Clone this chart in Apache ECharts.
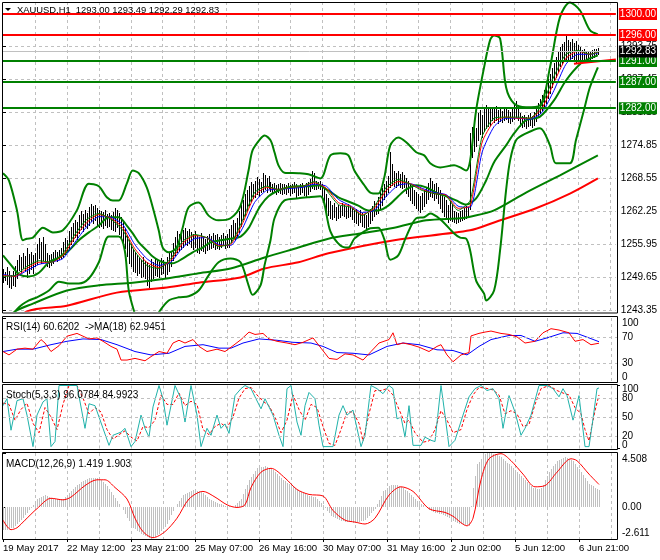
<!DOCTYPE html>
<html>
<head>
<meta charset="utf-8">
<title>XAUUSD H1</title>
<script src="https://cdn.jsdelivr.net/npm/echarts@6.0.0/dist/echarts.min.js"></script>
<style>
html,body{margin:0;padding:0;background:#ffffff;}
#chart{width:660px;height:560px;}
</style>
</head>
<body>
<div id="chart"></div>
<script>
// ================= DATA =================
const symbolName = "XAUUSD,H1";
const lastOHLC = [1293.00, 1293.49, 1292.29, 1292.83];
const timeLabels = ["19 May 2017","22 May 12:00","23 May 21:00","25 May 07:00","26 May 16:00","30 May 07:00","31 May 16:00","2 Jun 02:00","5 Jun 12:00","6 Jun 21:00"];
const timeLabelBars = [0,32,64,96,128,160,192,224,256,288];

const barHigh = [
1251.3,1250.8,1251.6,1250.9,1250.2,1251.0,1251.8,1253.0,1254.0,1253.6,
1254.3,1253.8,1255.4,1254.2,1254.5,1253.9,1254.4,1256.0,1257.3,1256.5,
1257.4,1256.0,1254.4,1253.9,1254.2,1254.6,1254.9,1254.5,1255.0,1255.4,
1256.4,1257.2,1256.8,1258.6,1259.4,1260.0,1260.6,1260.2,1261.6,1262.3,
1261.8,1262.5,1262.0,1263.2,1263.8,1263.4,1263.6,1263.0,1262.6,1262.4,
1262.2,1262.5,1261.8,1262.0,1261.6,1262.2,1263.0,1262.6,1262.0,1261.2,
1260.4,1259.2,1257.8,1256.8,1256.0,1255.2,1254.6,1254.0,1253.4,1253.0,
1253.6,1252.8,1252.6,1252.0,1253.2,1252.6,1253.2,1253.0,1252.6,1253.4,
1253.0,1252.4,1253.6,1254.4,1254.8,1256.2,1257.4,1258.6,1258.0,1258.4,
1258.8,1259.2,1258.6,1259.0,1258.4,1258.0,1258.6,1257.8,1257.4,1258.2,
1257.6,1257.0,1257.6,1258.0,1257.6,1258.2,1257.8,1258.0,1257.4,1257.8,
1258.2,1257.6,1258.0,1259.0,1259.8,1260.6,1260.0,1261.0,1262.4,1263.6,
1264.4,1265.6,1266.4,1267.2,1268.0,1267.6,1268.2,1268.8,1268.4,1268.0,
1269.6,1269.2,1268.6,1269.0,1268.0,1267.6,1267.8,1267.4,1267.6,1267.8,
1267.5,1267.6,1267.3,1267.8,1267.4,1267.6,1267.9,1267.5,1267.2,1267.6,
1267.8,1267.4,1267.8,1268.0,1268.4,1270.0,1269.6,1268.2,1268.0,1268.2,
1267.6,1266.8,1265.6,1264.8,1264.2,1263.6,1264.0,1263.2,1263.6,1263.4,
1264.0,1263.6,1263.2,1263.8,1263.4,1263.0,1262.6,1262.8,1262.2,1262.6,
1262.0,1261.8,1261.6,1262.0,1262.8,1263.4,1264.2,1264.0,1265.0,1266.0,
1266.8,1267.6,1268.2,1269.0,1273.6,1271.4,1270.0,1269.6,1270.0,1269.4,
1269.8,1269.2,1268.6,1268.2,1267.6,1267.0,1266.4,1266.0,1265.6,1265.2,
1265.8,1266.4,1267.0,1267.8,1268.6,1268.2,1267.6,1267.8,1267.0,1266.4,
1265.6,1265.0,1264.4,1263.6,1264.2,1263.8,1262.4,1262.2,1262.0,1262.4,
1262.6,1263.0,1263.4,1263.2,1277.2,1278.4,1279.0,1278.2,1281.0,1281.6,
1280.8,1282.0,1282.6,1282.2,1281.8,1282.2,1281.8,1282.4,1281.6,1282.0,
1281.4,1281.8,1282.2,1281.6,1281.2,1281.8,1282.8,1283.4,1282.6,1281.0,
1280.6,1280.8,1280.4,1280.8,1281.0,1280.6,1281.2,1282.0,1283.0,1283.8,
1284.6,1285.4,1286.6,1287.6,1288.6,1289.6,1290.6,1291.8,1292.8,1293.6,
1294.2,1294.6,1295.8,1295.0,1294.6,1295.2,1294.4,1294.8,1294.0,1293.6,
1293.2,1293.4,1292.8,1293.0,1293.0,1293.2,1293.4,1293.3,1293.49
];
const barLow = [
1248.9,1249.3,1248.5,1247.9,1247.6,1248.3,1248.0,1249.6,1251.2,1250.8,
1251.5,1251.0,1249.7,1250.6,1251.3,1250.5,1251.8,1252.3,1253.4,1252.4,
1253.0,1252.6,1251.8,1251.6,1252.0,1252.5,1253.0,1252.8,1253.2,1253.4,
1253.6,1254.2,1254.6,1255.2,1256.0,1256.6,1257.4,1257.0,1258.2,1259.0,
1258.6,1259.6,1259.2,1259.8,1260.4,1260.0,1260.6,1259.6,1259.4,1259.6,
1259.2,1259.8,1259.4,1259.5,1259.0,1258.8,1258.6,1259.4,1258.0,1257.2,
1256.0,1255.4,1253.8,1252.4,1251.8,1251.0,1250.8,1250.2,1250.6,1249.8,
1250.0,1249.6,1248.2,1247.8,1249.0,1249.6,1250.2,1250.0,1249.8,1250.4,
1250.6,1249.7,1250.4,1251.0,1251.8,1253.0,1254.0,1254.6,1255.0,1255.2,
1255.6,1256.0,1255.8,1256.2,1255.6,1255.2,1255.6,1254.6,1254.4,1255.0,
1254.8,1254.3,1255.0,1255.2,1255.4,1255.6,1255.2,1255.4,1255.2,1255.6,
1255.8,1255.4,1255.6,1255.6,1256.4,1257.2,1257.0,1257.6,1258.4,1259.6,
1260.8,1261.6,1262.6,1263.6,1264.2,1264.8,1265.0,1265.6,1265.2,1266.0,
1266.2,1266.6,1266.0,1266.8,1266.2,1265.8,1266.0,1265.7,1266.0,1265.8,
1265.6,1265.9,1265.7,1266.0,1265.5,1265.8,1266.1,1264.8,1265.4,1265.6,
1266.0,1265.4,1265.2,1265.6,1266.2,1266.8,1266.6,1266.6,1266.8,1266.6,
1265.0,1263.4,1262.6,1261.6,1261.0,1260.8,1261.2,1260.6,1261.0,1261.2,
1261.6,1261.4,1261.0,1261.2,1261.4,1260.8,1260.2,1260.0,1259.8,1260.2,
1259.6,1259.4,1259.2,1259.6,1260.0,1260.6,1261.4,1261.8,1262.0,1262.8,
1263.6,1264.6,1265.2,1266.0,1267.0,1267.4,1267.2,1267.0,1267.4,1267.0,
1266.8,1267.0,1265.8,1265.2,1264.4,1264.0,1263.6,1263.0,1262.6,1262.2,
1262.8,1263.4,1264.0,1264.6,1265.2,1265.0,1264.4,1264.8,1264.0,1263.0,
1262.2,1261.4,1260.8,1260.2,1260.6,1260.4,1260.2,1260.0,1260.2,1260.4,
1260.6,1260.8,1261.0,1261.4,1262.8,1272.6,1273.8,1274.8,1276.0,1277.0,
1276.6,1277.6,1278.2,1278.6,1278.8,1279.8,1279.4,1279.8,1279.2,1279.6,
1279.4,1279.8,1280.0,1279.4,1279.2,1279.6,1280.0,1280.4,1279.8,1278.6,
1278.4,1278.6,1278.2,1278.6,1278.8,1278.4,1278.8,1279.6,1280.4,1281.0,
1281.6,1282.2,1283.0,1284.0,1285.0,1286.0,1287.0,1288.0,1289.2,1290.0,
1290.4,1291.0,1291.4,1291.0,1291.2,1291.6,1291.0,1290.6,1291.2,1290.8,
1291.0,1291.2,1290.8,1291.0,1291.4,1291.6,1291.8,1292.0,1292.29
];

// fast moving averages, read every 6 bars
const maBars = [0,6,12,18,24,30,36,42,48,54,60,66,72,78,84,90,96,102,108,114,120,126,132,138,144,150,156,162,168,174,180,186,192,198,204,210,216,222,228,234,240,246,252,258,264,270,276,282,288,294,298];
const maFastGreen = [1249.9,1250.1,1251.8,1252.9,1252.6,1254.3,1257.9,1260.8,1261.9,1260.8,1258.7,1254.7,1252.0,1251.4,1253.3,1256.6,1257.9,1257.3,1255.6,1256.2,1260.6,1265.9,1267.1,1266.5,1266.9,1267.1,1268.0,1266.3,1263.6,1263.1,1261.5,1263.3,1266.9,1268.4,1267.5,1266.3,1265.7,1265.2,1262.5,1264.4,1276.6,1280.1,1280.3,1280.3,1280.1,1282.7,1288.1,1292.3,1293.05,1292.3,1292.7];
const maMidRed = [1250.1,1249.9,1251.4,1252.6,1252.6,1253.9,1257.3,1260.2,1261.7,1261.0,1259.2,1255.2,1252.6,1251.6,1252.9,1256.2,1257.7,1257.3,1255.8,1256.0,1260.0,1265.2,1266.9,1266.5,1266.9,1267.1,1267.8,1266.7,1264.0,1263.3,1261.7,1262.9,1266.3,1268.0,1267.6,1266.5,1265.7,1265.4,1262.9,1263.4,1275.5,1279.5,1280.3,1280.1,1280.1,1282.0,1286.9,1291.5,1292.9,1292.3,1292.7];
const maSlowBlue = [1250.3,1249.9,1251.0,1252.2,1252.6,1253.3,1256.4,1259.4,1261.3,1261.2,1259.8,1256.0,1253.3,1252.0,1252.6,1255.4,1257.1,1257.3,1256.0,1255.8,1259.1,1264.0,1266.3,1266.5,1266.7,1266.9,1267.5,1267.1,1264.6,1263.4,1262.1,1262.5,1265.2,1267.3,1267.6,1266.7,1265.9,1265.5,1263.3,1263.1,1273.6,1278.5,1280.1,1280.1,1279.9,1281.2,1285.4,1290.4,1292.3,1292.3,1292.5];

// Bollinger bands [bar, price]
const bbUpper = [[0,1269.6],[3,1268.2],[7,1262.5],[10,1256.8],[12,1257.1],[15,1257.3],[20,1259.2],[25,1258.3],[30,1258.7],[37,1262.5],[43,1267.6],[48,1267.1],[52,1265.0],[55,1264.4],[58,1264.4],[62,1267.6],[65,1270.1],[68,1269.6],[72,1266.9],[75,1263.1],[78,1258.7],[80,1255.4],[83,1254.5],[87,1255.4],[90,1259.2],[93,1263.1],[98,1264.0],[103,1261.5],[108,1260.6],[114,1261.0],[119,1263.4],[123,1270.1],[125,1273.95],[129,1276.2],[131,1276.8],[134,1275.9],[136,1273.6],[138,1271.1],[141,1269.7],[148,1269.6],[153,1269.4],[159,1268.6],[164,1273.0],[169,1273.4],[173,1273.0],[176,1270.1],[181,1267.3],[184,1265.9],[188,1265.7],[191,1268.8],[194,1274.9],[198,1276.4],[202,1275.5],[207,1273.6],[211,1273.0],[214,1271.5],[219,1270.7],[226,1271.1],[229,1270.7],[232,1270.1],[234,1272.0],[237,1281.6],[241,1289.8],[244,1295.0],[246,1295.9],[249,1295.3],[252,1286.0],[256,1282.9],[262,1282.2],[269,1282.55],[274,1289.8],[279,1299.4],[284,1302.2],[289,1300.7],[294,1296.9],[298,1296.1]];
const bbMiddle = [[0,1253.9],[5,1251.6],[8,1250.3],[13,1249.9],[18,1250.6],[23,1252.6],[28,1253.5],[33,1254.85],[38,1256.8],[43,1258.3],[48,1259.6],[53,1261.2],[58,1261.2],[62,1259.6],[65,1258.1],[68,1256.4],[72,1254.85],[75,1253.7],[80,1252.6],[85,1252.4],[90,1253.3],[95,1254.5],[100,1255.4],[104,1256.4],[109,1256.8],[114,1257.1],[119,1257.5],[123,1259.1],[126,1261.3],[129,1263.4],[133,1265.2],[138,1266.3],[143,1266.9],[148,1267.1],[153,1267.1],[158,1267.3],[163,1266.3],[168,1265.0],[173,1264.2],[178,1263.4],[183,1262.5],[188,1262.5],[193,1263.4],[198,1265.2],[202,1266.5],[207,1267.3],[212,1266.9],[217,1265.9],[222,1265.2],[227,1264.4],[232,1263.6],[237,1264.8],[242,1268.2],[246,1271.7],[252,1274.9],[256,1277.2],[262,1279.7],[269,1280.4],[276,1283.5],[282,1287.3],[289,1290.4],[294,1291.5],[298,1292.1]];
const bbLower = [[0,1238.2],[3,1241.5],[8,1244.0],[13,1245.3],[17,1245.9],[23,1247.2],[28,1248.9],[33,1248.55],[38,1248.55],[43,1249.5],[48,1252.6],[53,1257.5],[58,1257.5],[61,1254.85],[63,1247.2],[66,1242.8],[68,1240.5],[73,1239.6],[78,1243.0],[83,1245.3],[88,1245.9],[93,1246.1],[98,1247.2],[103,1250.1],[108,1252.6],[114,1253.3],[119,1252.6],[123,1248.2],[125,1246.4],[129,1248.2],[131,1252.0],[134,1256.8],[136,1261.0],[141,1264.4],[148,1264.8],[153,1265.0],[159,1265.2],[164,1258.5],[169,1255.8],[173,1255.4],[176,1257.1],[181,1258.5],[184,1259.1],[188,1259.2],[191,1257.0],[194,1253.1],[198,1253.9],[202,1257.5],[207,1261.0],[211,1261.2],[214,1261.9],[219,1260.8],[226,1258.1],[229,1257.3],[232,1257.1],[234,1254.85],[237,1249.1],[241,1246.6],[242,1245.3],[246,1247.2],[249,1254.85],[252,1266.3],[254,1272.0],[257,1275.9],[262,1277.2],[269,1278.2],[274,1274.9],[277,1271.5],[284,1271.5],[287,1275.9],[291,1281.6],[294,1286.0],[298,1289.8]];

// slow moving averages [bar, price]
const maSlowGreen = [[0,1241.0],[6,1243.2],[15,1244.7],[32,1247.2],[48,1248.2],[65,1248.7],[82,1249.5],[98,1250.5],[114,1251.4],[131,1253.5],[148,1255.4],[163,1257.1],[179,1258.1],[196,1259.2],[212,1260.6],[229,1261.0],[234,1261.3],[246,1262.5],[262,1265.9],[279,1269.2],[298,1273.0]];
const maSlowRed = [[0,1238.5],[12,1243.2],[32,1244.3],[57,1246.8],[82,1247.8],[98,1248.7],[119,1249.7],[131,1251.4],[148,1252.6],[163,1254.3],[196,1256.8],[234,1258.7],[246,1260.2],[267,1262.9],[284,1265.7],[298,1268.6]];

// horizontal levels
const resistanceLevels = [1300.00, 1296.00];
const supportLevels = [1291.00, 1287.00, 1282.00];
const currentPrice = 1292.83;
const trendLine = [[286,1290.5],[307,1291.3]];

// price axis
const priceAxisMin = 1243.35, priceAxisMax = 1302.28, priceStep = 6.3;

// RSI(14) and its MA(18)
const rsiNow = 60.6202, rsiMaNow = 62.9451;
const rsiValues = [[0,47.6],[3,42.3],[7,51.3],[11,52.9],[15,51.3],[19,66.3],[21,60.9],[24,47.6],[28,56.7],[32,71.6],[37,75.9],[40,71.6],[43,67.3],[47,68.9],[50,63.6],[54,55.6],[57,51.3],[59,34.3],[62,34.3],[66,36.9],[71,33.2],[74,39.6],[78,47.6],[82,44.9],[85,60.9],[88,65.2],[91,60.9],[95,66.3],[98,55.6],[102,47.6],[107,51.3],[111,47.6],[115,56.7],[119,66.3],[123,78],[126,74.3],[130,75.9],[133,67.3],[137,63.6],[142,60.9],[146,58.3],[150,62],[155,68.9],[159,52.9],[163,36.9],[167,35.3],[171,43.9],[175,42.3],[180,34.3],[184,47.6],[188,60.9],[193,66.3],[195,76.9],[197,58.3],[200,60.9],[204,58.3],[208,54.5],[213,47.6],[217,55.6],[219,58.3],[222,42.3],[225,31.6],[229,42.3],[233,46],[234,72],[238,76],[241,78],[244,79.6],[249,75.9],[253,74.3],[257,70.5],[261,60.9],[266,63.6],[270,76.9],[274,83.3],[278,81.2],[283,76.9],[286,63.6],[290,66.3],[294,58.3],[298,60.62]];
const rsiMa = [[0,47.6],[7,51.3],[15,51.3],[24,58.3],[32,63.6],[40,67.3],[49,66.3],[57,58.3],[66,47.6],[74,42.3],[83,44.9],[91,55.6],[100,58.3],[108,52.9],[114,52.9],[120,60.9],[128,67.3],[137,65.2],[145,62],[154,60.9],[160,55.6],[167,46],[175,44.9],[183,42.3],[192,55.6],[200,60.9],[208,58.3],[217,50.3],[225,49.2],[232,42.3],[238,55.6],[244,66.3],[253,72.7],[259,72.7],[266,63.6],[272,68.9],[280,76.9],[287,75.9],[293,68.9],[298,62.95]];
const rsiLevels = [70, 30];

// Stochastic(5,3,3)
const stochNow = [96.0784, 84.9923];
const stochMain = [[0,68],[2,79],[4,29],[7,76],[10,79],[12,53],[15,3],[17,53],[20,74],[22,79],[24,3],[26,11],[28,100],[31,100],[34,100],[37,100],[41,32],[43,71],[46,68],[48,50],[50,32],[53,5],[55,21],[59,26],[61,32],[64,3],[66,11],[69,53],[71,32],[73,18],[75,66],[78,100],[80,79],[82,37],[84,68],[86,100],[89,79],[91,42],[94,100],[97,53],[99,3],[102,32],[104,21],[107,53],[109,32],[111,39],[113,24],[116,84],[119,95],[121,100],[124,95],[126,82],[129,63],[131,79],[135,53],[138,21],[140,3],[142,95],[144,100],[147,42],[149,21],[151,68],[153,89],[156,79],[158,37],[160,3],[163,3],[165,3],[168,53],[170,68],[172,53],[175,61],[177,32],[179,3],[181,21],[184,100],[187,95],[190,87],[193,100],[195,95],[197,47],[199,50],[201,18],[203,68],[205,5],[209,5],[211,18],[214,13],[216,11],[219,100],[221,53],[223,3],[226,13],[230,53],[233,82],[236,95],[239,100],[242,92],[245,95],[248,79],[250,32],[253,84],[256,58],[259,21],[261,32],[264,53],[268,100],[272,100],[275,95],[278,82],[280,95],[282,84],[285,45],[288,84],[291,3],[293,3],[295,47],[297,95],[298,96.08]];
const stochSignal = [[0,72],[3,70],[6,45],[9,62],[12,72],[15,40],[18,25],[21,65],[24,50],[27,30],[30,70],[33,100],[37,100],[40,80],[43,55],[46,65],[49,58],[52,30],[55,15],[58,22],[61,28],[64,18],[67,12],[70,35],[73,33],[76,45],[79,85],[82,70],[85,70],[88,88],[91,68],[94,75],[97,70],[100,30],[103,22],[106,35],[109,40],[112,33],[115,50],[118,80],[121,95],[124,97],[127,85],[130,75],[133,68],[136,50],[139,25],[142,45],[145,85],[148,62],[151,45],[154,70],[157,65],[160,35],[163,8],[166,5],[169,30],[172,58],[175,58],[178,40],[180,12],[183,55],[186,92],[189,92],[192,95],[195,85],[198,62],[201,40],[203,45],[206,25],[210,10],[213,12],[216,30],[219,60],[222,45],[225,25],[229,30],[232,62],[235,85],[238,97],[241,96],[245,93],[248,85],[251,55],[254,60],[257,55],[260,35],[263,38],[266,70],[269,95],[273,100],[277,92],[280,88],[283,85],[286,65],[289,55],[291,30],[293,12],[296,60],[298,84.99]];
const stochLevels = [80, 50, 20];

// MACD(12,26,9): histogram per bar, signal line
const macdNow = [1.419, 1.903];
const macdHist = [
-1.90,-1.88,-1.84,-1.79,-1.74,-1.68,-1.55,-1.40,-1.23,-1.05,
-0.85,-0.66,-0.45,-0.25,-0.02,0.22,0.46,0.70,0.80,0.88,
0.96,1.02,0.98,0.90,0.82,0.75,0.70,0.66,0.64,0.66,
0.70,0.85,1.00,1.16,1.33,1.50,1.66,1.82,1.97,2.08,
2.18,2.27,2.35,2.40,2.44,2.46,2.46,2.44,2.35,2.24,
2.11,1.97,1.76,1.52,1.27,1.02,0.78,0.54,0.30,0.06,
-0.25,-0.57,-0.85,-1.14,-1.42,-1.68,-1.80,-1.92,-2.04,-2.16,
-2.27,-2.38,-2.48,-2.56,-2.611,-2.55,-2.45,-2.32,-2.16,-1.98,
-1.79,-1.59,-1.37,-1.02,-0.66,-0.30,0.06,0.32,0.57,0.80,
1.02,1.13,1.23,1.32,1.40,1.42,1.42,1.40,1.37,1.33,
1.18,1.02,0.86,0.70,0.62,0.54,0.46,0.38,0.31,0.25,
0.19,0.13,0.10,0.08,0.07,0.06,0.18,0.34,0.52,0.70,
1.10,1.50,1.90,2.29,2.54,2.78,3.02,3.24,3.30,3.35,
3.38,3.40,3.36,3.28,3.18,3.06,2.92,2.76,2.60,2.45,
2.29,2.17,2.05,1.93,1.81,1.69,1.57,1.45,1.33,1.25,
1.17,1.10,1.02,0.98,0.94,0.90,0.86,0.70,0.54,0.38,
0.22,-0.02,-0.26,-0.50,-0.73,-0.81,-0.89,-0.97,-1.05,-1.09,
-1.13,-1.17,-1.21,-1.22,-1.24,-1.25,-1.26,-1.27,-1.22,-1.16,
-1.11,-1.05,-0.86,-0.67,-0.48,-0.29,-0.10,0.26,0.62,0.98,
1.33,1.47,1.61,1.76,1.90,1.88,1.86,1.84,1.81,1.69,
1.57,1.45,1.33,1.17,1.01,0.86,0.70,0.57,0.44,0.31,
0.18,0.06,-0.06,-0.18,-0.29,-0.41,-0.45,-0.49,-0.53,-0.57,
-0.65,-0.73,-0.81,-0.89,-0.99,-1.08,-1.18,-1.27,-1.37,-1.40,
-1.43,-1.46,-1.49,-1.52,0.10,1.65,2.60,3.56,3.80,4.05,
4.30,4.45,4.50,4.508,4.50,4.45,4.40,4.33,4.26,4.19,
4.03,3.88,3.72,3.56,3.40,3.24,3.08,2.92,2.76,2.60,
2.45,2.29,2.13,1.97,1.81,1.65,1.60,1.56,1.56,1.60,
1.90,2.25,2.60,2.92,3.16,3.40,3.63,3.87,3.95,4.03,
4.11,4.19,4.12,4.04,3.96,3.87,3.63,3.39,3.16,2.92,
2.68,2.44,2.21,1.97,1.85,1.74,1.63,1.52,1.419
];
const macdSignal = [[0,-1.05],[4,-1.84],[7,-1.68],[11,-1.05],[17,-0.10],[24,0.76],[30,0.63],[34,0.86],[41,1.81],[47,2.29],[51,2.29],[56,1.65],[62,0.70],[66,-0.89],[70,-2.0],[75,-2.50],[81,-2.0],[87,-0.89],[93,0.70],[100,1.33],[106,0.86],[112,0.22],[117,0.0],[121,0.22],[124,1.65],[129,2.92],[134,3.24],[141,2.44],[147,1.49],[153,1.08],[160,0.95],[165,-0.25],[171,-1.05],[176,-1.21],[181,-1.37],[186,-0.89],[193,1.02],[199,1.71],[205,1.33],[213,-0.10],[221,-0.41],[225,-0.73],[232,-1.52],[235,-0.89],[239,2.29],[243,4.03],[249,4.45],[254,3.87],[260,2.76],[266,1.71],[271,1.81],[277,2.92],[284,4.03],[287,3.87],[293,2.76],[298,1.903]];
const macdMax = 4.508, macdMin = -2.611;

// ================= CHART =================
const FONT = "'Liberation Sans', Arial, Helvetica, sans-serif";
const GRIDC = '#c0c0c0';
const XMAX = 307;
const chart = echarts.init(document.getElementById('chart'), null, {renderer:'canvas', devicePixelRatio:1, width:660, height:560});

function splitX(gi){
  return {type:'value', gridIndex:gi, min:0, max:XMAX, interval:16,
    axisLine:{show:false}, axisTick:{show:false}, axisLabel:{show:false},
    splitLine:{show:true, showMinLine:false, showMaxLine:false, lineStyle:{color:GRIDC, type:[3,3], width:1}}};
}
function edgeLabels(vals, minV, maxV, fmt, padTop, padBot, lh){
  const base = {color:'#000', fontFamily:FONT, fontSize:10, lineHeight:lh};
  return Object.assign({
    show:true, margin:5, customValues:vals, showMinLabel:true, showMaxLabel:true, hideOverlap:false,
    formatter: v => { const s = fmt(v);
      if (Math.abs(v-maxV) < 1e-9) return '{t|'+s+'}';
      if (Math.abs(v-minV) < 1e-9) return '{b|'+s+'}';
      return '{m|'+s+'}'; },
    rich:{ t:Object.assign({padding:[padTop,0,0,0]}, base), b:Object.assign({padding:[0,0,padBot,0]}, base), m:Object.assign({}, base) }
  }, base);
}
function sideAxis(gi, min, max, vals, fmt, padTop, padBot, lh){
  return {type:'value', gridIndex:gi, position:'right', min, max,
    axisLine:{show:false},
    axisTick:{show:true, length:3, customValues:vals, lineStyle:{color:'#000'}},
    axisLabel:edgeLabels(vals, min, max, fmt, padTop, padBot, lh),
    splitLine:{show:false}};
}
function line(data, xi, yi, color, width, extra){
  return Object.assign({type:'line', xAxisIndex:xi, yAxisIndex:yi, data, showSymbol:false, symbol:'none',
    lineStyle:{color, width}, silent:true, animation:false, z:3}, extra||{});
}
function levelLine(v, lineColor, bg, width){
  return {yAxis:v, lineStyle:{color:lineColor, width, type:'solid'},
    label:{show:true, position:'end', distance:3, formatter:v.toFixed(2), backgroundColor:bg, color:'#fff',
      padding:[1,1,1,1], fontFamily:FONT, fontSize:10, lineHeight:10}};
}
function dashLevels(vals){
  return {silent:true, symbol:['none','none'], animation:false, label:{show:false},
    lineStyle:{color:GRIDC, type:[3,3], width:1}, data:vals.map(v=>({yAxis:v}))};
}
function priceBar(params, api){
  const a = api.coord([api.value(0), api.value(1)]);
  const b = api.coord([api.value(0), api.value(2)]);
  const x = Math.round(a[0]) + 0.5;
  return {type:'line', shape:{x1:x, y1:Math.round(a[1]), x2:x, y2:Math.round(b[1])+1}, style:{stroke:'#000', lineWidth:1}};
}
function histBar(params, api){
  const p = api.coord([api.value(0), api.value(1)]);
  const z = api.coord([api.value(0), 0]);
  const x = Math.round(p[0]) + 0.5;
  return {type:'line', shape:{x1:x, y1:Math.round(z[1]), x2:x, y2:Math.round(p[1])}, style:{stroke:'#c0c0c0', lineWidth:1}};
}
const pair = (idx, vals) => idx.map((i,k)=>[i, vals[k]]);

const option = {
  animation:false,
  backgroundColor:'#ffffff',
  grid:[
    {left:3, top:2, width:614, height:308.7},
    {left:3, top:318, width:614, height:64},
    {left:3, top:385.5, width:614, height:63},
    {left:3, top:453, width:614, height:86}
  ],
  xAxis:[
    splitX(0), splitX(1), splitX(2), splitX(3),
    {type:'value', gridIndex:3, min:0, max:XMAX, position:'bottom',
      axisLine:{show:false},
      axisTick:{show:true, length:3, customValues:timeLabelBars, lineStyle:{color:'#000'}},
      axisLabel:{show:true, customValues:timeLabelBars, align:'left', margin:4, color:'#000', fontFamily:FONT, fontSize:9.6,
        showMinLabel:true, hideOverlap:false,
        formatter:v => { const k = timeLabelBars.indexOf(Math.round(v)); return k >= 0 ? timeLabels[k] : ''; }},
      splitLine:{show:false}}
  ],
  yAxis:[
    {type:'value', gridIndex:0, position:'right', min:priceAxisMin, max:priceAxisMax, interval:priceStep,
      axisLine:{show:false},
      axisTick:{show:true, length:3, lineStyle:{color:'#000'}},
      axisLabel:{show:true, showMinLabel:true, showMaxLabel:false, margin:5, color:'#000', fontFamily:FONT, fontSize:10, formatter:v=>v.toFixed(2)},
      splitLine:{show:true, showMaxLine:false, lineStyle:{color:GRIDC, type:[3,3], width:1}}},
    sideAxis(1, 0, 100, [0,30,70,100], v=>String(v), 10, 10, 9),
    sideAxis(2, 0, 100, [20,50,80], v=>String(v), 7, 7, 10),
    sideAxis(3, macdMin, macdMax, [macdMin,0,macdMax], v=> (Math.abs(v)<1e-9 ? '0.00' : v.toFixed(3)), 13, 12, 10),
    sideAxis(2, 0, 100, [0,100], v=>String(v), 7, 7, 10)
  ],
  series:[
    {type:'custom', name:'bars', xAxisIndex:0, yAxisIndex:0, data:barHigh.map((h,i)=>[i,h,barLow[i]]),
      encode:{x:0, y:[1,2]}, renderItem:priceBar, silent:true, z:2},
    line(maSlowGreen, 0,0, '#008000', 2, {smooth:0.3}),
    line(maSlowRed, 0,0, '#ff0000', 2, {smooth:0.3}),
    line(bbUpper, 0,0, '#008000', 2, {smooth:0.3}),
    line(bbMiddle, 0,0, '#008000', 2, {smooth:0.3}),
    line(bbLower, 0,0, '#008000', 2, {smooth:0.3}),
    line(pair(maBars, maSlowBlue), 0,0, '#0000ff', 1, {smooth:0.2}),
    line(pair(maBars, maMidRed), 0,0, '#ff0000', 1, {smooth:0.2}),
    line(pair(maBars, maFastGreen), 0,0, '#008000', 1, {smooth:0.2}),
    line(trendLine, 0,0, '#ff0000', 2, {clip:false, z:4,
      markLine:{silent:true, symbol:['none','none'], animation:false,
        data:[
          ...resistanceLevels.map(v=>levelLine(v, '#ff0000', '#ff0000', 2)),
          ...supportLevels.map(v=>levelLine(v, '#008000', '#008000', 2)),
          levelLine(currentPrice, '#c0c0c0', '#000000', 1)
        ]}}),
    line(rsiMa, 1,1, '#0000ff', 1),
    line(rsiValues, 1,1, '#ff0000', 1, {markLine:dashLevels(rsiLevels)}),
    line(stochSignal, 2,2, '#ff0000', 1, {lineStyle:{color:'#ff0000', width:1, type:[3,2]}}),
    line(stochMain, 2,2, '#20b2aa', 1, {markLine:dashLevels(stochLevels)}),
    {type:'custom', name:'macd', xAxisIndex:3, yAxisIndex:3, data:macdHist.map((v,i)=>[i,v]),
      encode:{x:0, y:1}, renderItem:histBar, silent:true, z:2},
    line(macdSignal, 3,3, '#ff0000', 1, {smooth:0.3})
  ],
  graphic:{elements:[
    {type:'rect', silent:true, z:50, shape:{x:2.5, y:2.5, width:615, height:310.5}, style:{fill:'none', stroke:'#000', lineWidth:1}},
    {type:'rect', silent:true, z:50, shape:{x:2.5, y:316.5, width:615, height:66}, style:{fill:'none', stroke:'#000', lineWidth:1}},
    {type:'rect', silent:true, z:50, shape:{x:2.5, y:384.5, width:615, height:65}, style:{fill:'none', stroke:'#000', lineWidth:1}},
    {type:'rect', silent:true, z:50, shape:{x:2.5, y:452.5, width:615, height:87}, style:{fill:'none', stroke:'#000', lineWidth:1}},
    {type:'polygon', silent:true, z:51, shape:{points:[[5,8],[11,8],[8,11]]}, style:{fill:'#000'}},
    {type:'text', silent:true, z:51, x:17, y:10, style:{text:symbolName+'  '+lastOHLC.map(v=>v.toFixed(2)).join(' '), fontFamily:FONT, fontSize:9.4, fill:'#000', verticalAlign:'middle'}},
    {type:'text', silent:true, z:51, x:6, y:327, style:{text:'RSI(14) '+rsiNow.toFixed(4)+'  ->MA(18) '+rsiMaNow.toFixed(4), fontFamily:FONT, fontSize:10, fill:'#000', verticalAlign:'middle'}},
    {type:'text', silent:true, z:51, x:6, y:395, style:{text:'Stoch(5,3,3) '+stochNow[0].toFixed(4)+' '+stochNow[1].toFixed(4), fontFamily:FONT, fontSize:10, fill:'#000', verticalAlign:'middle'}},
    {type:'text', silent:true, z:51, x:6, y:464, style:{text:'MACD(12,26,9) '+macdNow[0].toFixed(3)+' '+macdNow[1].toFixed(3), fontFamily:FONT, fontSize:10, fill:'#000', verticalAlign:'middle'}}
  ]}
};
chart.setOption(option);
</script>
</body>
</html>
